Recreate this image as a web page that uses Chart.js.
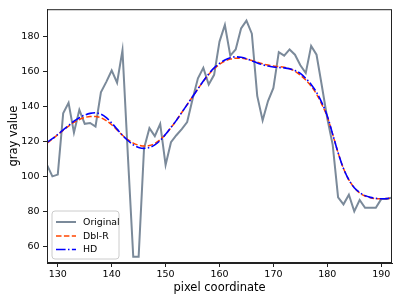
<!DOCTYPE html>
<html lang="en">
<head>
  <meta charset="UTF-8">
  <title>Profile fit</title>
  <script src="https://cdn.jsdelivr.net/npm/chart.js"></script>
  <style>
    body { margin: 0; background: #fff; }
    canvas { display: block; }
  </style>
</head>
<body>
  <canvas id="profileChart" width="399" height="302"></canvas>
  <script>
    // pixel positions along the profile
    const pixels = [128, 129, 130, 131, 132, 133, 134, 135, 136, 137, 138, 139, 140, 141, 142, 143,
      144, 145, 146, 147, 148, 149, 150, 151, 152, 153, 154, 155, 156, 157, 158, 159, 160,
      161, 162, 163, 164, 165, 166, 167, 168, 169, 170, 171, 172, 173, 174, 175, 176,
      177, 178, 179, 180, 181, 182, 183, 184, 185, 186, 187, 188, 189, 190, 191, 192];

    // raw gray values
    const original = [106.5, 100, 101, 136, 142, 125, 138, 130, 130.5, 128.5, 148, 154, 160.5, 153.5, 172, 112,
      54, 54, 116, 127.5, 123, 130, 106.5, 119.5, 123.5, 127, 131, 144, 156, 162, 152.5, 158, 177,
      186.5, 169, 172.5, 184.5, 189, 181.5, 146, 132, 143, 150.5, 171, 169, 172.5, 169.5, 163.5, 159,
      174.5, 169.5, 151.5, 133, 118, 88, 84, 89.5, 80, 86.5, 82, 82, 82, 87, 87, 88];

    // Dbl-R fit
    const dblR = [119, 121.3, 123.8, 126.3, 128.7, 130.8, 132.5, 133.6, 134.2, 134.2, 133.5, 131.8, 129.5, 126.5, 123.5, 121,
      119, 117.8, 117.3, 117.6, 118.8, 121, 124, 127.8, 132, 136.5, 141, 145.5, 150, 154.3, 158.2, 161.5, 164,
      165.8, 167, 167.5, 167.5, 167, 166.2, 165.2, 164.3, 163.6, 163, 162.7, 162.3, 161.5, 160, 157.8, 155,
      151.5, 147, 141, 134, 124, 113.5, 104.5, 98, 93.5, 90.5, 88.8, 87.8, 87.3, 87.2, 87.3, 87.6];

    // HD fit
    const hd = [119.5, 121.5, 124, 126.5, 129, 131.5, 133.5, 135, 136, 136.3, 135.5, 133.5, 130.5, 127, 123.5, 120.5,
      118, 116.5, 116, 116.5, 118, 120.5, 124, 128, 132, 136.5, 141, 145.5, 150, 154.5, 158.5, 162, 164.5,
      166.5, 167.8, 168.3, 168, 167.2, 166, 164.8, 163.8, 163, 162.5, 162.2, 162, 161.5, 160.5, 158.8, 156,
      152.5, 148, 142, 134.5, 124, 113.5, 104.5, 98, 93.5, 90.8, 89, 88, 87.4, 87.2, 87.3, 87.8];

    const xTicks = [130, 140, 150, 160, 170, 180, 190];
    const yTicks = [60, 80, 100, 120, 140, 160, 180];

    function toPoints(values) {
      return values.map((v, i) => ({ x: pixels[i], y: v }));
    }

    // top/right spines plus a matplotlib-style legend box
    const frameAndLegend = {
      id: 'frameAndLegend',
      afterDraw(chart) {
        const ctx = chart.ctx;
        const a = chart.chartArea;
        ctx.save();
        ctx.strokeStyle = '#222';
        ctx.lineWidth = 1;
        ctx.strokeRect(a.left + 0.5, a.top + 0.5, a.right - a.left - 1, a.bottom - a.top - 1);

        // legend
        const bx = 52, by = 211, bw = 67, bh = 48, r = 3;
        ctx.beginPath();
        ctx.moveTo(bx + r, by);
        ctx.arcTo(bx + bw, by, bx + bw, by + bh, r);
        ctx.arcTo(bx + bw, by + bh, bx, by + bh, r);
        ctx.arcTo(bx, by + bh, bx, by, r);
        ctx.arcTo(bx, by, bx + bw, by, r);
        ctx.closePath();
        ctx.fillStyle = 'rgba(255,255,255,0.8)';
        ctx.fill();
        ctx.strokeStyle = '#cccccc';
        ctx.stroke();

        const rows = [222, 236, 249.5];
        ctx.font = '9.4px "DejaVu Sans"';
        ctx.textBaseline = 'middle';
        chart.data.datasets.forEach((ds, i) => {
          const y = rows[i];
          ctx.beginPath();
          ctx.setLineDash(ds.borderDash || []);
          ctx.strokeStyle = ds.borderColor;
          ctx.lineWidth = ds.borderWidth;
          ctx.moveTo(56, y);
          ctx.lineTo(76, y);
          ctx.stroke();
          ctx.setLineDash([]);
          ctx.fillStyle = '#000';
          ctx.fillText(ds.label, 83, y + 0.5);
        });
        ctx.restore();
      }
    };

    new Chart(document.getElementById('profileChart'), {
      type: 'line',
      data: {
        datasets: [
          {
            label: 'Original',
            data: toPoints(original),
            borderColor: '#7b8a9a',
            borderWidth: 2,
            pointRadius: 0,
            tension: 0,
            order: 2
          },
          {
            label: 'Dbl-R',
            data: toPoints(dblR),
            borderColor: '#ff4500',
            borderWidth: 1.5,
            borderDash: [5.5, 2.4],
            pointRadius: 0,
            cubicInterpolationMode: 'monotone',
            order: 1
          },
          {
            label: 'HD',
            data: toPoints(hd),
            borderColor: '#0000ff',
            borderWidth: 1.6,
            borderDash: [9.6, 2.4, 1.5, 2.4],
            pointRadius: 0,
            cubicInterpolationMode: 'monotone',
            order: 0
          }
        ]
      },
      options: {
        responsive: false,
        animation: false,
        devicePixelRatio: 1,
        layout: { padding: { left: 0, right: 7, top: 6, bottom: 0 } },
        plugins: {
          legend: { display: false },
          tooltip: { enabled: false }
        },
        scales: {
          x: {
            type: 'linear',
            min: 128,
            max: 192,
            afterBuildTicks: (s) => { s.ticks = xTicks.map(v => ({ value: v })); },
            afterFit: (s) => { s.height = 39; },
            grid: { drawOnChartArea: false, drawTicks: true, tickLength: 4, color: '#222' },
            border: { display: true, color: '#222' },
            ticks: { color: '#000', padding: 2, maxRotation: 0, font: { family: 'DejaVu Sans', size: 9.5 } },
            title: {
              display: true,
              text: 'pixel coordinate',
              color: '#000',
              padding: { top: 0, bottom: 7 },
              font: { family: 'DejaVu Sans', size: 11.5 }
            }
          },
          y: {
            min: 50.5,
            max: 195.5,
            afterBuildTicks: (s) => { s.ticks = yTicks.map(v => ({ value: v })); },
            afterFit: (s) => { s.width = 47; },
            grid: { drawOnChartArea: false, drawTicks: true, tickLength: 4, color: '#222' },
            border: { display: true, color: '#222' },
            ticks: { color: '#000', padding: 3.5, font: { family: 'DejaVu Sans', size: 9.5 } },
            title: {
              display: true,
              text: 'gray value',
              color: '#000',
              padding: { top: 7, bottom: 0 },
              font: { family: 'DejaVu Sans', size: 11.5 }
            }
          }
        }
      },
      plugins: [frameAndLegend]
    });
  </script>
</body>
</html>
